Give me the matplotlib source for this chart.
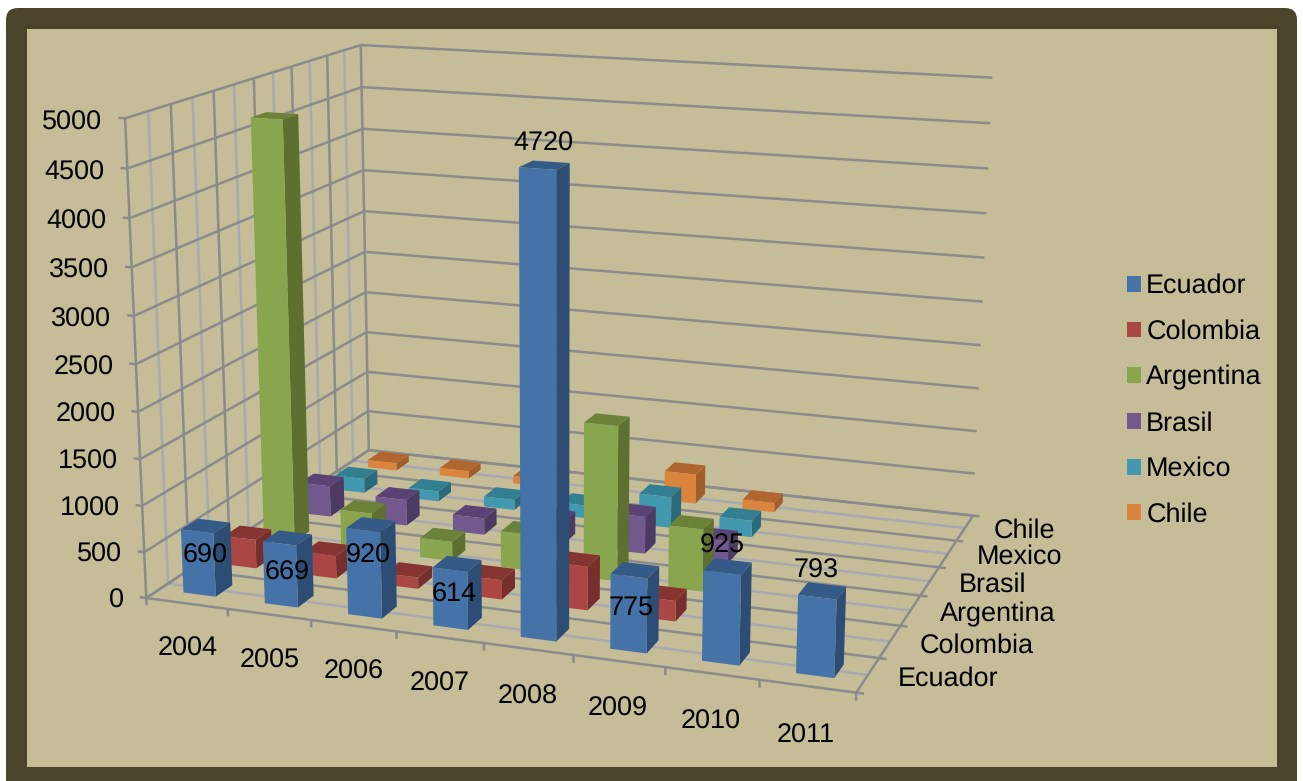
import numpy as np
import matplotlib
matplotlib.use("Agg")
import matplotlib.pyplot as plt
from matplotlib.patches import FancyBboxPatch, Rectangle, Patch
from mpl_toolkits.mplot3d import proj3d
from mpl_toolkits.mplot3d.art3d import Line3DCollection

plt.rcParams['font.family'] = ['Liberation Sans', 'DejaVu Sans']
plt.rcParams['text.hinting'] = 'no_hinting'
plt.rcParams['text.hinting_factor'] = 1

# ---- data ----
years = ['2004', '2005', '2006', '2007', '2008', '2009', '2010', '2011']
series_names = ['Ecuador', 'Colombia', 'Argentina', 'Brasil', 'Mexico', 'Chile']
ecuador = [690, 669, 920, 614, 4720, 775, 925, 793]
colombia = [320, 250, 125, 210, 470, 220]
argentina = [4690, 430, 215, 400, 1700, 680]
brasil = [360, 300, 190, 260, 420, 250]
mexico = [170, 120, 120, 150, 360, 190]
chile = [90, 90, 90, 70, 350, 110]
all_series = [ecuador, colombia, argentina, brasil, mexico, chile]
z_ticks = [0, 500, 1000, 1500, 2000, 2500, 3000, 3500, 4000, 4500, 5000]
# data-label offsets from the bar top (value units) and from the bar centre (categories)
label_shift = [-325, -385, -335, -335, 200, -395, 205, 195]
label_dx = [-0.025, -0.025, -0.05, -0.05, -0.015, -0.045, -0.075, -0.075]

# face colours: front, side, top
front = ['#4572A7', '#AA4643', '#89A54E', '#71588F', '#4198AF', '#DB843D']
side = ['#2E4D74', '#762F2D', '#5E7030', '#4C3A62', '#2A6A7C', '#A05E2A']
top = ['#345B87', '#863431', '#6B8238', '#5A4274', '#337F92', '#B0662E']
DARK = '#8B8B8B'
LIGHT = '#A9A9B0'
W, H = 1303, 781
FS = 19.2

# ---- camera calibration: (x, y, z) -> picture pixel ----
calib = []
for k, p in zip(range(9), [(146, 598), (228, 610), (311, 621), (396, 632), (484, 643),
                           (573, 655), (665, 667), (759, 680), (856, 692)]):
    calib.append((k, 0, 0, *p))
for k, p in zip(range(1, 7), [(879.5, 658), (901, 625), (921.5, 595), (940, 567), (957, 540), (973, 515)]):
    calib.append((8, k, 0, *p))
for z, p in zip(z_ticks[1:], [(145, 552), (143, 505), (140, 459), (138, 411), (136, 364),
                              (134, 315), (132, 267), (129, 219), (127, 169), (125, 119)]):
    calib.append((0, 0, z, *p))
for k, p in zip(range(1, 7), [(170, 105), (213, 91), (254, 78), (292, 66), (327, 55), (362, 45)]):
    calib.append((0, k, 5000, *p))
calib.append((0, 6, 0, 368, 450))
for z, p in zip(z_ticks[1:], [(974, 475), (976, 433), (978, 390), (980, 345), (983, 300),
                              (985, 257), (986, 213), (988, 169), (990, 124), (993, 77)]):
    calib.append((8, 6, z, *p))


def fit_camera(pts):
    A = []
    for x, y, z, u, v in pts:
        z = z / 1000.0
        v = H - v
        A.append([x, y, z, 1, 0, 0, 0, 0, -u * x, -u * y, -u * z, -u])
        A.append([0, 0, 0, 0, x, y, z, 1, -v * x, -v * y, -v * z, -v])
    A = np.array(A, float)
    scale = np.abs(A).max(axis=0)
    _, _, vt = np.linalg.svd(A / scale)
    p = (vt[-1] / scale).reshape(3, 4)
    p[:, 2] /= 1000.0
    return p


P = fit_camera(calib)
M = np.array([P[0], P[1], [0.0, 1.0, 0.0, 0.0], P[2]])

# ---- figure ----
fig = plt.figure(figsize=(W / 100, H / 100), dpi=100, facecolor='white')
bg = fig.add_axes([0, 0, 1, 1], zorder=0)
bg.set_xlim(0, W)
bg.set_ylim(H, 0)
bg.set_xticks([])
bg.set_yticks([])
bg.axis('off')
bg.add_patch(FancyBboxPatch((6, 8), 1291, 800, boxstyle='round,pad=0,rounding_size=12',
                            facecolor='#4A442A', edgecolor='none'))
bg.add_patch(Rectangle((27, 29), 1250, 738, facecolor='#C4BD97', edgecolor='none'))

ax = fig.add_axes([0, 0, 1, 1], projection='3d', zorder=1, computed_zorder=False)
ax.patch.set_visible(False)
ax.set_axis_off()
ax.apply_aspect = lambda position=None: None
ax.get_proj = lambda: M

dark_segs, light_segs = [], []
for z in z_ticks:
    dark_segs.append([(8, 6, z), (0, 6, z)])
    dark_segs.append([(0, 6, z), (0, 0, z)])
    dark_segs.append([(-0.08, 0, z), (0, 0, z)])
for k in range(13):
    y = k / 2
    target = light_segs if k % 2 else dark_segs
    target.append([(0, y, 0), (0, y, 5000)])
    target.append([(0, y, 0), (8, y, 0)])
    if k % 2 == 0:
        dark_segs.append([(8, y, 0), (8.08, y, 0)])
dark_segs.append([(0, 0, 0), (0, 6, 0)])
dark_segs.append([(8, 0, 0), (8, 6, 0)])
for i in range(9):
    dark_segs.append([(i, 0, 0), (i, 0, -80)])
ax.add_collection3d(Line3DCollection(light_segs, colors=LIGHT, linewidths=1.8, zorder=1))
ax.add_collection3d(Line3DCollection(dark_segs, colors=DARK, linewidths=1.8, zorder=2))

# bars, back to front
bw, bd = 0.40, 0.40
clear = (0, 0, 0, 0)
order = 10
for j in range(5, -1, -1):
    for i, v in enumerate(all_series[j]):
        col = ax.bar3d(i + 0.50 - bw / 2, j + 0.5 - bd / 2, 0, bw, bd, v, shade=False,
                       color=[clear, top[j], front[j], clear, clear, side[j]])
        col.set_zorder(order)
        order += 1


def label(x, y, z, s, ha='center'):
    u, v, _ = proj3d.proj_transform(x, y, z, M)
    ax.text2D(float(u), float(v), s, transform=ax.transData, fontsize=FS, ha=ha, va='center',
              color='black', zorder=500)


# data labels
for i, (v, s, dx) in enumerate(zip(ecuador, label_shift, label_dx)):
    label(i + 0.51 + dx, 0.5, v + s, str(v))
# axis labels
for z in z_ticks:
    label(-0.28, 0, z - 60, str(z), ha='right')
for i, y in enumerate(years):
    label(i + 0.49, 0, -500, y)
for j, n in enumerate(series_names):
    label(8.31 + 0.007 * j, j + 0.5, 0, n, ha='left')

handles = [Patch(facecolor=c, edgecolor='none', label=n) for c, n in zip(front, series_names)]
fig.legend(handles=handles, loc='center left', bbox_to_anchor=(1127 / W, 1 - 400.5 / H),
           frameon=False, fontsize=FS, borderpad=0, borderaxespad=0,
           handlelength=0.54, handleheight=0.54, handletextpad=0.18, labelspacing=0.77)

ax.set_xticks([])
ax.set_yticks([])
ax.set_zticks([])
ax.viewLim.intervalx = (0, W)
ax.viewLim.intervaly = (0, H)
fig.savefig('out.png', dpi=100, facecolor='white')
